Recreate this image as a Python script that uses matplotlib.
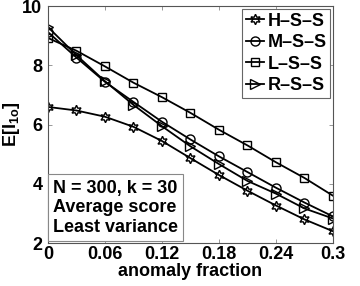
import matplotlib
matplotlib.use("Agg")
import matplotlib.pyplot as plt

# ---- DATA ----
frac = [0, 0.03, 0.06, 0.09, 0.12, 0.15, 0.18, 0.21, 0.24, 0.27, 0.3]
hss = [6.6, 6.48, 6.27, 5.93, 5.45, 4.87, 4.3, 3.77, 3.27, 2.8, 2.4]
mss = [9.13, 8.27, 7.45, 6.77, 6.1, 5.5, 4.93, 4.4, 3.87, 3.37, 2.9]
lss = [8.93, 8.5, 7.97, 7.42, 6.93, 6.4, 5.83, 5.3, 4.73, 4.2, 3.6]
rss = [9.3, 8.35, 7.47, 6.67, 5.95, 5.27, 4.67, 4.1, 3.67, 3.17, 2.83]
labels = ["H\u2013S\u2013S", "M\u2013S\u2013S", "L\u2013S\u2013S", "R\u2013S\u2013S"]
xticks = [0, 0.06, 0.12, 0.18, 0.24, 0.3]
xticklabels = ["0", "0.06", "0.12", "0.18", "0.24", "0.3"]
yticks = [2, 4, 6, 8, 10]
# --------------

plt.rcParams['font.family'] = ['Liberation Sans', 'DejaVu Sans']
plt.rcParams['font.weight'] = 'bold'
plt.rcParams['mathtext.fontset'] = 'custom'
plt.rcParams['mathtext.rm'] = 'Liberation Sans:bold'
plt.rcParams['mathtext.it'] = 'Liberation Sans:bold'
plt.rcParams['mathtext.bf'] = 'Liberation Sans:bold'

FS = 13

fig = plt.figure(figsize=(3.6, 2.86), dpi=100)
ax = fig.add_axes([0.133, 0.150, 0.792, 0.828])

style = dict(color='black', lw=1.3, markerfacecolor='none', markeredgewidth=1.0)
ax.plot(frac, hss, marker=(6, 1, 0), ms=7.5, label=labels[0], **style)
ax.plot(frac, mss, marker='o', ms=6.5, label=labels[1], **style)
ax.plot(frac, lss, marker='s', ms=6, label=labels[2], **style)
ax.plot(frac, rss, marker='>', ms=7, label=labels[3], **style)

ax.set_xlim(0, 0.3)
ax.set_ylim(2, 10)
ax.set_xticks(xticks)
ax.set_xticklabels(xticklabels)
ax.set_yticks(yticks)
ax.tick_params(direction='in', top=True, right=True, length=3, width=0.6,
               labelsize=FS, pad=2, color='#888888')
ax.tick_params(axis='y', pad=4)
for lab in ax.get_xticklabels() + ax.get_yticklabels():
    lab.set_fontweight('bold')
for s in ax.spines.values():
    s.set_linewidth(0.8)
    s.set_color('#555555')

ax.set_xlabel('anomaly fraction', fontsize=FS, fontweight='bold', labelpad=0)
ax.set_ylabel(r'E[I$_{1o}$]', fontsize=FS, fontweight='bold', labelpad=0)

leg = ax.legend(loc='upper right', fontsize=FS, handlelength=1.0, handletextpad=0.2,
                borderpad=0.2, labelspacing=0.25, borderaxespad=0.15, fancybox=False,
                framealpha=1)
leg.get_frame().set_edgecolor('#666666')
leg.get_frame().set_linewidth(0.8)
for t in leg.get_texts():
    t.set_fontweight('bold')

ax.text(0.018, 0.03, "N = 300, k = 30\nAverage score\nLeast variance",
        transform=ax.transAxes, fontsize=FS, fontweight='bold', va='bottom',
        ha='left', linespacing=1.2,
        bbox=dict(boxstyle='square,pad=0.3', fc='white', ec='#888888', lw=0.8))

fig.savefig('out.png', dpi=100)
